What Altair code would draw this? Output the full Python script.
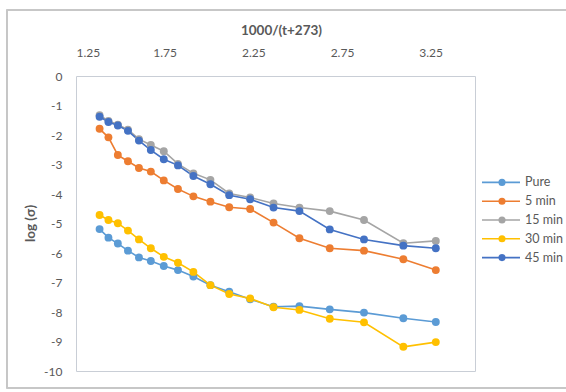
import altair as alt
import pandas as pd

# x: reciprocal temperature, 1000/(t+273)
inv_temp = [1.383, 1.433, 1.486, 1.543, 1.605, 1.672, 1.745, 1.825, 1.912,
            2.008, 2.114, 2.232, 2.364, 2.510, 2.681, 2.874, 3.096, 3.279]

# log of conductivity for each treatment time
pure = [-5.19, -5.48, -5.68, -5.92, -6.15, -6.27, -6.44, -6.58, -6.80,
        -7.09, -7.31, -7.57, -7.82, -7.80, -7.91, -8.02, -8.21, -8.34]
min5 = [-1.79, -2.08, -2.68, -2.89, -3.12, -3.24, -3.54, -3.83, -4.08,
        -4.26, -4.45, -4.51, -4.97, -5.50, -5.84, -5.92, -6.21, -6.58]
min15 = [-1.33, -1.52, -1.65, -1.82, -2.14, -2.34, -2.55, -2.98, -3.30,
         -3.52, -3.98, -4.12, -4.32, -4.46, -4.58, -4.88, -5.67, -5.59]
min30 = [-4.71, -4.88, -4.99, -5.24, -5.54, -5.84, -6.13, -6.33, -6.64,
         -7.09, -7.39, -7.54, -7.84, -7.93, -8.23, -8.35, -9.18, -9.02]
min45 = [-1.38, -1.56, -1.68, -1.86, -2.19, -2.51, -2.82, -3.03, -3.39,
         -3.67, -4.04, -4.18, -4.46, -4.58, -5.20, -5.54, -5.75, -5.84]

series_names = ["Pure", "5 min", "15 min", "30 min", "45 min"]
series_values = [pure, min5, min15, min30, min45]
series_colors = ["#5B9BD5", "#ED7D31", "#A5A5A5", "#FFC000", "#4472C4"]

x_ticks = [1.25, 1.75, 2.25, 2.75, 3.25]
y_ticks = list(range(-10, 1))

rows = []
for name, vals in zip(series_names, series_values):
    for i, (xv, yv) in enumerate(zip(inv_temp, vals)):
        rows.append({"series": name, "x": xv, "y": yv, "idx": i})
df = pd.DataFrame(rows)
legend_df = pd.DataFrame({"series": series_names})

FONT = "Lato"
TXT = "#595959"

color = alt.Color("series:N",
                  scale=alt.Scale(domain=series_names, range=series_colors),
                  legend=None)

x_enc = alt.X("x:Q",
              scale=alt.Scale(domain=[1.25, 3.5], nice=False, zero=False),
              axis=alt.Axis(orient="top", values=x_ticks, format=".2f",
                            title="1000/(t+273)", grid=False, ticks=False,
                            domain=False, labelPadding=17, labelFontSize=12,
                            labelColor=TXT, labelFont=FONT,
                            titleFont=FONT, titleFontSize=13.5,
                            titleFontWeight="bold", titleColor=TXT,
                            titleX=205, titleY=-46, titleBaseline="middle"))
y_enc = alt.Y("y:Q",
              scale=alt.Scale(domain=[-10, 0], nice=False, zero=False),
              axis=alt.Axis(values=y_ticks, title="log (σ)", grid=False,
                            ticks=False, domain=False,
                            labelExpr="'' + datum.value", labelOverlap=False,
                            labelPadding=14, labelFontSize=12,
                            labelColor=TXT, labelFont=FONT,
                            titleFont=FONT, titleFontSize=13.5,
                            titleFontWeight="bold", titleColor=TXT,
                            titleX=-46, titleY=147, titleBaseline="middle",
                            titleAngle=-90))

lines = alt.Chart(df).mark_line(strokeWidth=1.6).encode(
    x=x_enc, y=y_enc, color=color, detail="series:N", order="idx:Q")
points = alt.Chart(df).mark_circle(size=62, opacity=1).encode(
    x=x_enc, y=y_enc, color=color)
plot = alt.layer(lines, points)

# legend: short line with a marker, then the series name
leg_y = alt.Y("series:N",
              scale=alt.Scale(domain=series_names, range=[97, 191]),
              axis=None)
leg_rule = alt.Chart(legend_df).mark_rule(strokeWidth=1.6).encode(
    x=alt.value(406), x2=alt.value(444), y=leg_y, color=color)
leg_dot = alt.Chart(legend_df).mark_circle(size=50, opacity=1).encode(
    x=alt.value(426), y=leg_y, color=color)
leg_text = alt.Chart(legend_df).mark_text(
    align="left", baseline="middle", font=FONT, fontSize=12.5, color=TXT,
    dx=0).encode(x=alt.value(449), y=leg_y, text="series:N")
legend = alt.layer(leg_rule, leg_dot, leg_text)

# outer frame around the chart area
frame = alt.Chart(legend_df).mark_rect(
    fill=None, stroke="#c6c6c6", strokeWidth=1.2).encode(
    x=alt.value(-69), x2=alt.value(520), y=alt.value(-66), y2=alt.value(312))

chart = alt.layer(frame, plot, legend).resolve_scale(y="independent").properties(
    width=399, height=295,
    autosize=alt.AutoSizeParams(type="none"),
    padding={"left": 76, "top": 76, "right": 91, "bottom": 21},
    background="white",
).configure_view(stroke="#c9ced6", strokeWidth=1)

chart.save("out.html", embed_options={"renderer": "svg", "actions": False})
